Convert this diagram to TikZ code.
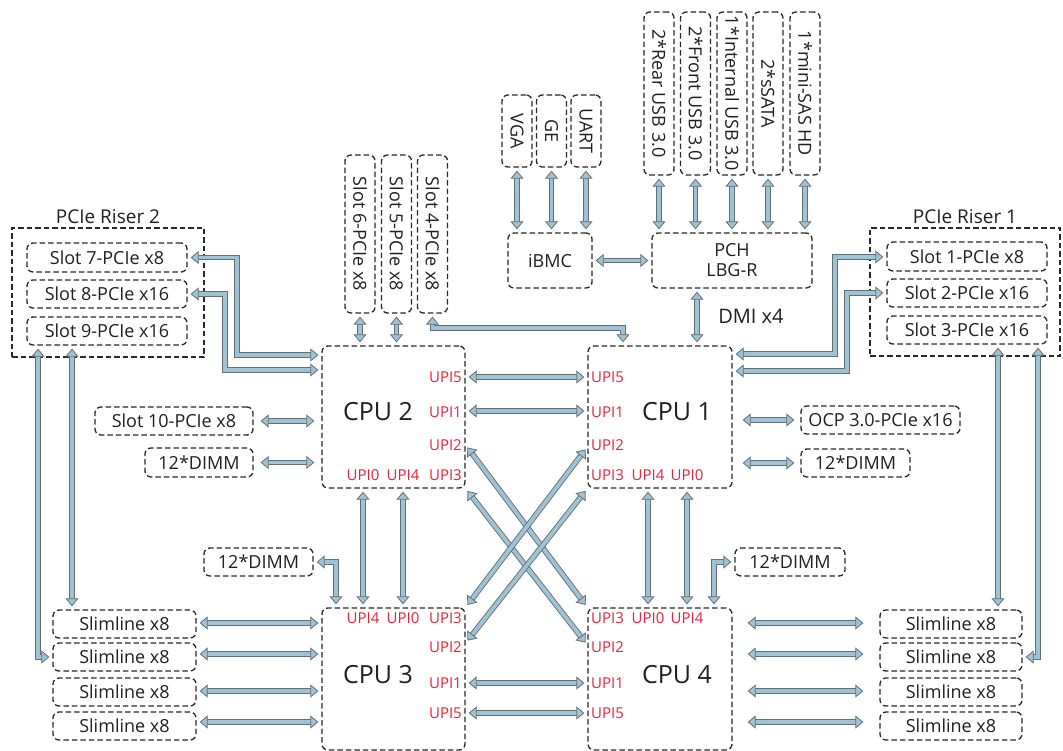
\documentclass[tikz,border=0pt]{standalone}
\usepackage{fontspec}
\setmainfont{Open Sans}
\usetikzlibrary{arrows.meta,calc}
\definecolor{busfill}{RGB}{158,195,212}
\definecolor{busline}{RGB}{100,110,116}
\definecolor{upired}{RGB}{236,32,56}
\definecolor{boxline}{RGB}{40,40,40}

\begin{document}
\begin{tikzpicture}[x=1pt,y=-1pt,
	txt/.style={text=black!88,font=\fontsize{18}{20}\selectfont},
	box/.style={txt,draw=boxline,line width=1.3pt,dash pattern=on 5.5pt off 3pt,rounded corners=6pt,inner sep=0pt},
	frame/.style={draw=boxline,line width=1.3pt,dash pattern=on 5.5pt off 3pt,inner sep=0pt},
	upi/.style={text=upired,font=\fontsize{15}{17}\selectfont,inner sep=1pt},
	>={Triangle[length=8pt,width=13pt,fill=busfill,color=busline,line width=0.8pt]},
	bus/.style={<->,draw=busline,line width=0.9pt,double=busfill,double distance=3.8pt,shorten <=3pt,shorten >=3pt}]
			\useasboundingbox (0,0) rectangle (1063,751);
			% risers
			\node[frame,minimum width=192,minimum height=129,label={[txt,font=\fontsize{19}{21}\selectfont]above:PCIe Riser 2}] (riser2) at (108,292.5) {};
			\node[frame,minimum width=190,minimum height=128,label={[txt,font=\fontsize{19}{21}\selectfont]above:PCIe Riser 1}] (riser1) at (965,292) {};
			\node[box,minimum width=160,minimum height=29] (s7) at (107,257.5) {Slot 7-PCIe x8};
			\node[box,minimum width=160,minimum height=28] (s8) at (107,294) {Slot 8-PCIe x16};
			\node[box,minimum width=160,minimum height=28] (s9) at (107,331) {Slot 9-PCIe x16};
			\node[box,minimum width=160,minimum height=29] (s1) at (967,256.5) {Slot 1-PCIe x8};
			\node[box,minimum width=160,minimum height=28] (s2) at (967,293) {Slot 2-PCIe x16};
			\node[box,minimum width=160,minimum height=28] (s3) at (967,330) {Slot 3-PCIe x16};
			\node[box,minimum width=30,minimum height=158] (s6) at (360,234) {\rotatebox{-90}{Slot 6-PCIe x8}};
			\node[box,minimum width=30,minimum height=158] (s5) at (396.5,234) {\rotatebox{-90}{Slot 5-PCIe x8}};
			\node[box,minimum width=30,minimum height=158] (s4) at (432.5,234) {\rotatebox{-90}{Slot 4-PCIe x8}};
			
			% management and PCH
			\node[box,minimum width=30,minimum height=72] (vga) at (517,131) {\rotatebox{-90}{VGA}};
			\node[box,minimum width=30,minimum height=72] (ge) at (551.5,131) {\rotatebox{-90}{GE}};
			\node[box,minimum width=30,minimum height=72] (uart) at (586,131) {\rotatebox{-90}{UART}};
			\node[box,minimum width=84,minimum height=55] (ibmc) at (550,260.5) {iBMC};
			\node[box,minimum width=160,minimum height=55,align=center] (pch) at (732,260.5) {PCH\\LBG-R};
			\node[box,minimum width=30,minimum height=163] (usbr) at (659,93.5) {\rotatebox{-90}{2*Rear USB 3.0}};
			\node[box,minimum width=30,minimum height=163] (usbf) at (695.5,93.5) {\rotatebox{-90}{2*Front USB 3.0}};
			\node[box,minimum width=30,minimum height=163] (usbi) at (732,93.5) {\rotatebox{-90}{1*Internal USB 3.0}};
			\node[box,minimum width=30,minimum height=163] (ssata) at (768,93.5) {\rotatebox{-90}{2*sSATA}};
			\node[box,minimum width=30,minimum height=163] (sas) at (805,93.5) {\rotatebox{-90}{1*mini-SAS HD}};
			\node[txt,font=\fontsize{20}{22}\selectfont] (dmi) at (751,316) {DMI x4};
			
			% CPUs
			\node[box,minimum width=143,minimum height=142] (cpu2) at (393.5,417) {};
			\node[box,minimum width=144,minimum height=142] (cpu1) at (660,417) {};
			\node[box,minimum width=143,minimum height=142] (cpu3) at (393.5,679) {};
			\node[box,minimum width=144,minimum height=142] (cpu4) at (660,679) {};
			\node[txt,font=\fontsize{25}{28}\selectfont] (cpu2txt) at (378,412) {CPU 2};
			\node[txt,font=\fontsize{25}{28}\selectfont] (cpu1txt) at (677,412) {CPU 1};
			\node[txt,font=\fontsize{25}{28}\selectfont] (cpu3txt) at (378,675) {CPU 3};
			\node[txt,font=\fontsize{25}{28}\selectfont] (cpu4txt) at (677,675) {CPU 4};
			\foreach \n/\y in {5/377,1/412,2/445,3/475} {\node[upi,anchor=east] (cpu2u\n) at (463,\y) {UPI\n}; \node[upi,anchor=west] (cpu1u\n) at (590,\y) {UPI\n};}
			\foreach \n/\y in {3/618,2/647,1/683,5/713} {\node[upi,anchor=east] (cpu3u\n) at (463,\y) {UPI\n}; \node[upi,anchor=west] (cpu4u\n) at (590,\y) {UPI\n};}
			\node[upi] (cpu2u0) at (363,475) {UPI0};
			\node[upi] (cpu2u4) at (403,475) {UPI4};
			\node[upi] (cpu1u4) at (648,475) {UPI4};
			\node[upi] (cpu1u0) at (687,475) {UPI0};
			\node[upi] (cpu3u4) at (363,618) {UPI4};
			\node[upi] (cpu3u0) at (403,618) {UPI0};
			\node[upi] (cpu4u0) at (648,618) {UPI0};
			\node[upi] (cpu4u4) at (687,618) {UPI4};
			
			% side devices
			\node[box,minimum width=158,minimum height=28] (slot10) at (174,421) {Slot 10-PCIe x8};
			\node[box,minimum width=108,minimum height=29] (dimm2) at (199,462.5) {12*DIMM};
			\node[box,minimum width=159,minimum height=28] (ocp) at (880.5,420) {OCP 3.0-PCIe x16};
			\node[box,minimum width=109,minimum height=28] (dimm1) at (855.5,463) {12*DIMM};
			\node[box,minimum width=109,minimum height=28] (dimm3) at (258.5,562) {12*DIMM};
			\node[box,minimum width=110,minimum height=28] (dimm4) at (790,562) {12*DIMM};
			
			% buses
			\draw[bus] (s7.east) -| (237,355) -- (cpu2.west |- 0,355);
			\draw[bus] (s8.east) -| (225,370) -- (cpu2.west |- 0,370);
			\draw[bus] (cpu1.east |- 0,354) -| (835,257) -- (s1.west |- 0,257);
			\draw[bus] (cpu1.east |- 0,371) -| (847,293) -- (s2.west);
			\draw[bus] (s6.south) -- (cpu2.north -| s6.south);
			\draw[bus] (s5.south) -- (cpu2.north -| s5.south);
			\draw[bus] (s4.south) |- (623,328) -- (cpu1.north -| 623,0);
			\foreach \x in {vga,ge,uart} {\draw[bus] (\x.south) -- (ibmc.north -| \x.south);}
			\foreach \x in {usbr,usbf,usbi,ssata,sas} {\draw[bus] (\x.south) -- (pch.north -| \x.south);}
			\draw[bus] (ibmc.east) -- (pch.west);
			\draw[bus] (pch.south -| 697,0) -- (cpu1.north -| 697,0);
			\draw[bus,shorten <=7pt,shorten >=7pt] (slot10.east) -- (cpu2.west |- slot10.east);
			\draw[bus,shorten <=7pt,shorten >=7pt] (dimm2.east) -- (cpu2.west |- dimm2.east);
			\draw[bus,shorten <=10pt,shorten >=6pt] (cpu1.east |- ocp.west) -- (ocp.west);
			\draw[bus,shorten <=10pt,shorten >=6pt] (cpu1.east |- dimm1.west) -- (dimm1.west);
			\foreach \y in {377,411} {\draw[bus] (cpu2.east |- 0,\y) -- (cpu1.west |- 0,\y);}
			\foreach \y in {683,713} {\draw[bus] (cpu3.east |- 0,\y) -- (cpu4.west |- 0,\y);}
			\foreach \x in {363,403} {\draw[bus] (cpu2.south -| \x,0) -- (cpu3.north -| \x,0);}
			\foreach \x in {648,687} {\draw[bus] (cpu1.south -| \x,0) -- (cpu4.north -| \x,0);}
			\draw[bus] (cpu2.east |- 0,445) -- (cpu4.north west);
			\draw[bus] (cpu2.south east) -- (cpu4.west |- 0,645);
			\draw[bus] (cpu1.west |- 0,447) -- (cpu3.north east);
			\draw[bus] (cpu1.south west) -- (cpu3.east |- 0,643);
			\draw[bus] (dimm3.east) -| (cpu3.north -| 336,0);
			\draw[bus] (cpu4.north -| 714,0) |- (dimm4.west);
			
			% slimlines
			\foreach \i/\y/\a in {1/624/623,2/657/654,3/692/691,4/726/722} {
				\node[box,minimum width=143,minimum height=28] (sll\i) at (124.5,\y) {Slimline x8};
				\node[box,minimum width=142,minimum height=28] (slr\i) at (951,\y) {Slimline x8};
				\draw[bus] (sll\i.east |- 0,\a) -- (cpu3.west |- 0,\a);
				\draw[bus,shorten <=15pt,shorten >=16pt] (cpu4.east |- 0,\a) -- (slr\i.west |- 0,\a);
			}
			\draw[bus] (s9.south -| 72,0) -- (sll1.north -| 72,0);
			\draw[bus] (s9.south -| 38,0) |- (sll2.west);
			\draw[bus] (s3.south -| 998,0) -- (slr1.north -| 998,0);
			\draw[bus] (s3.south -| 1038,0) |- (slr2.east);
		\end{tikzpicture}
\end{document}
